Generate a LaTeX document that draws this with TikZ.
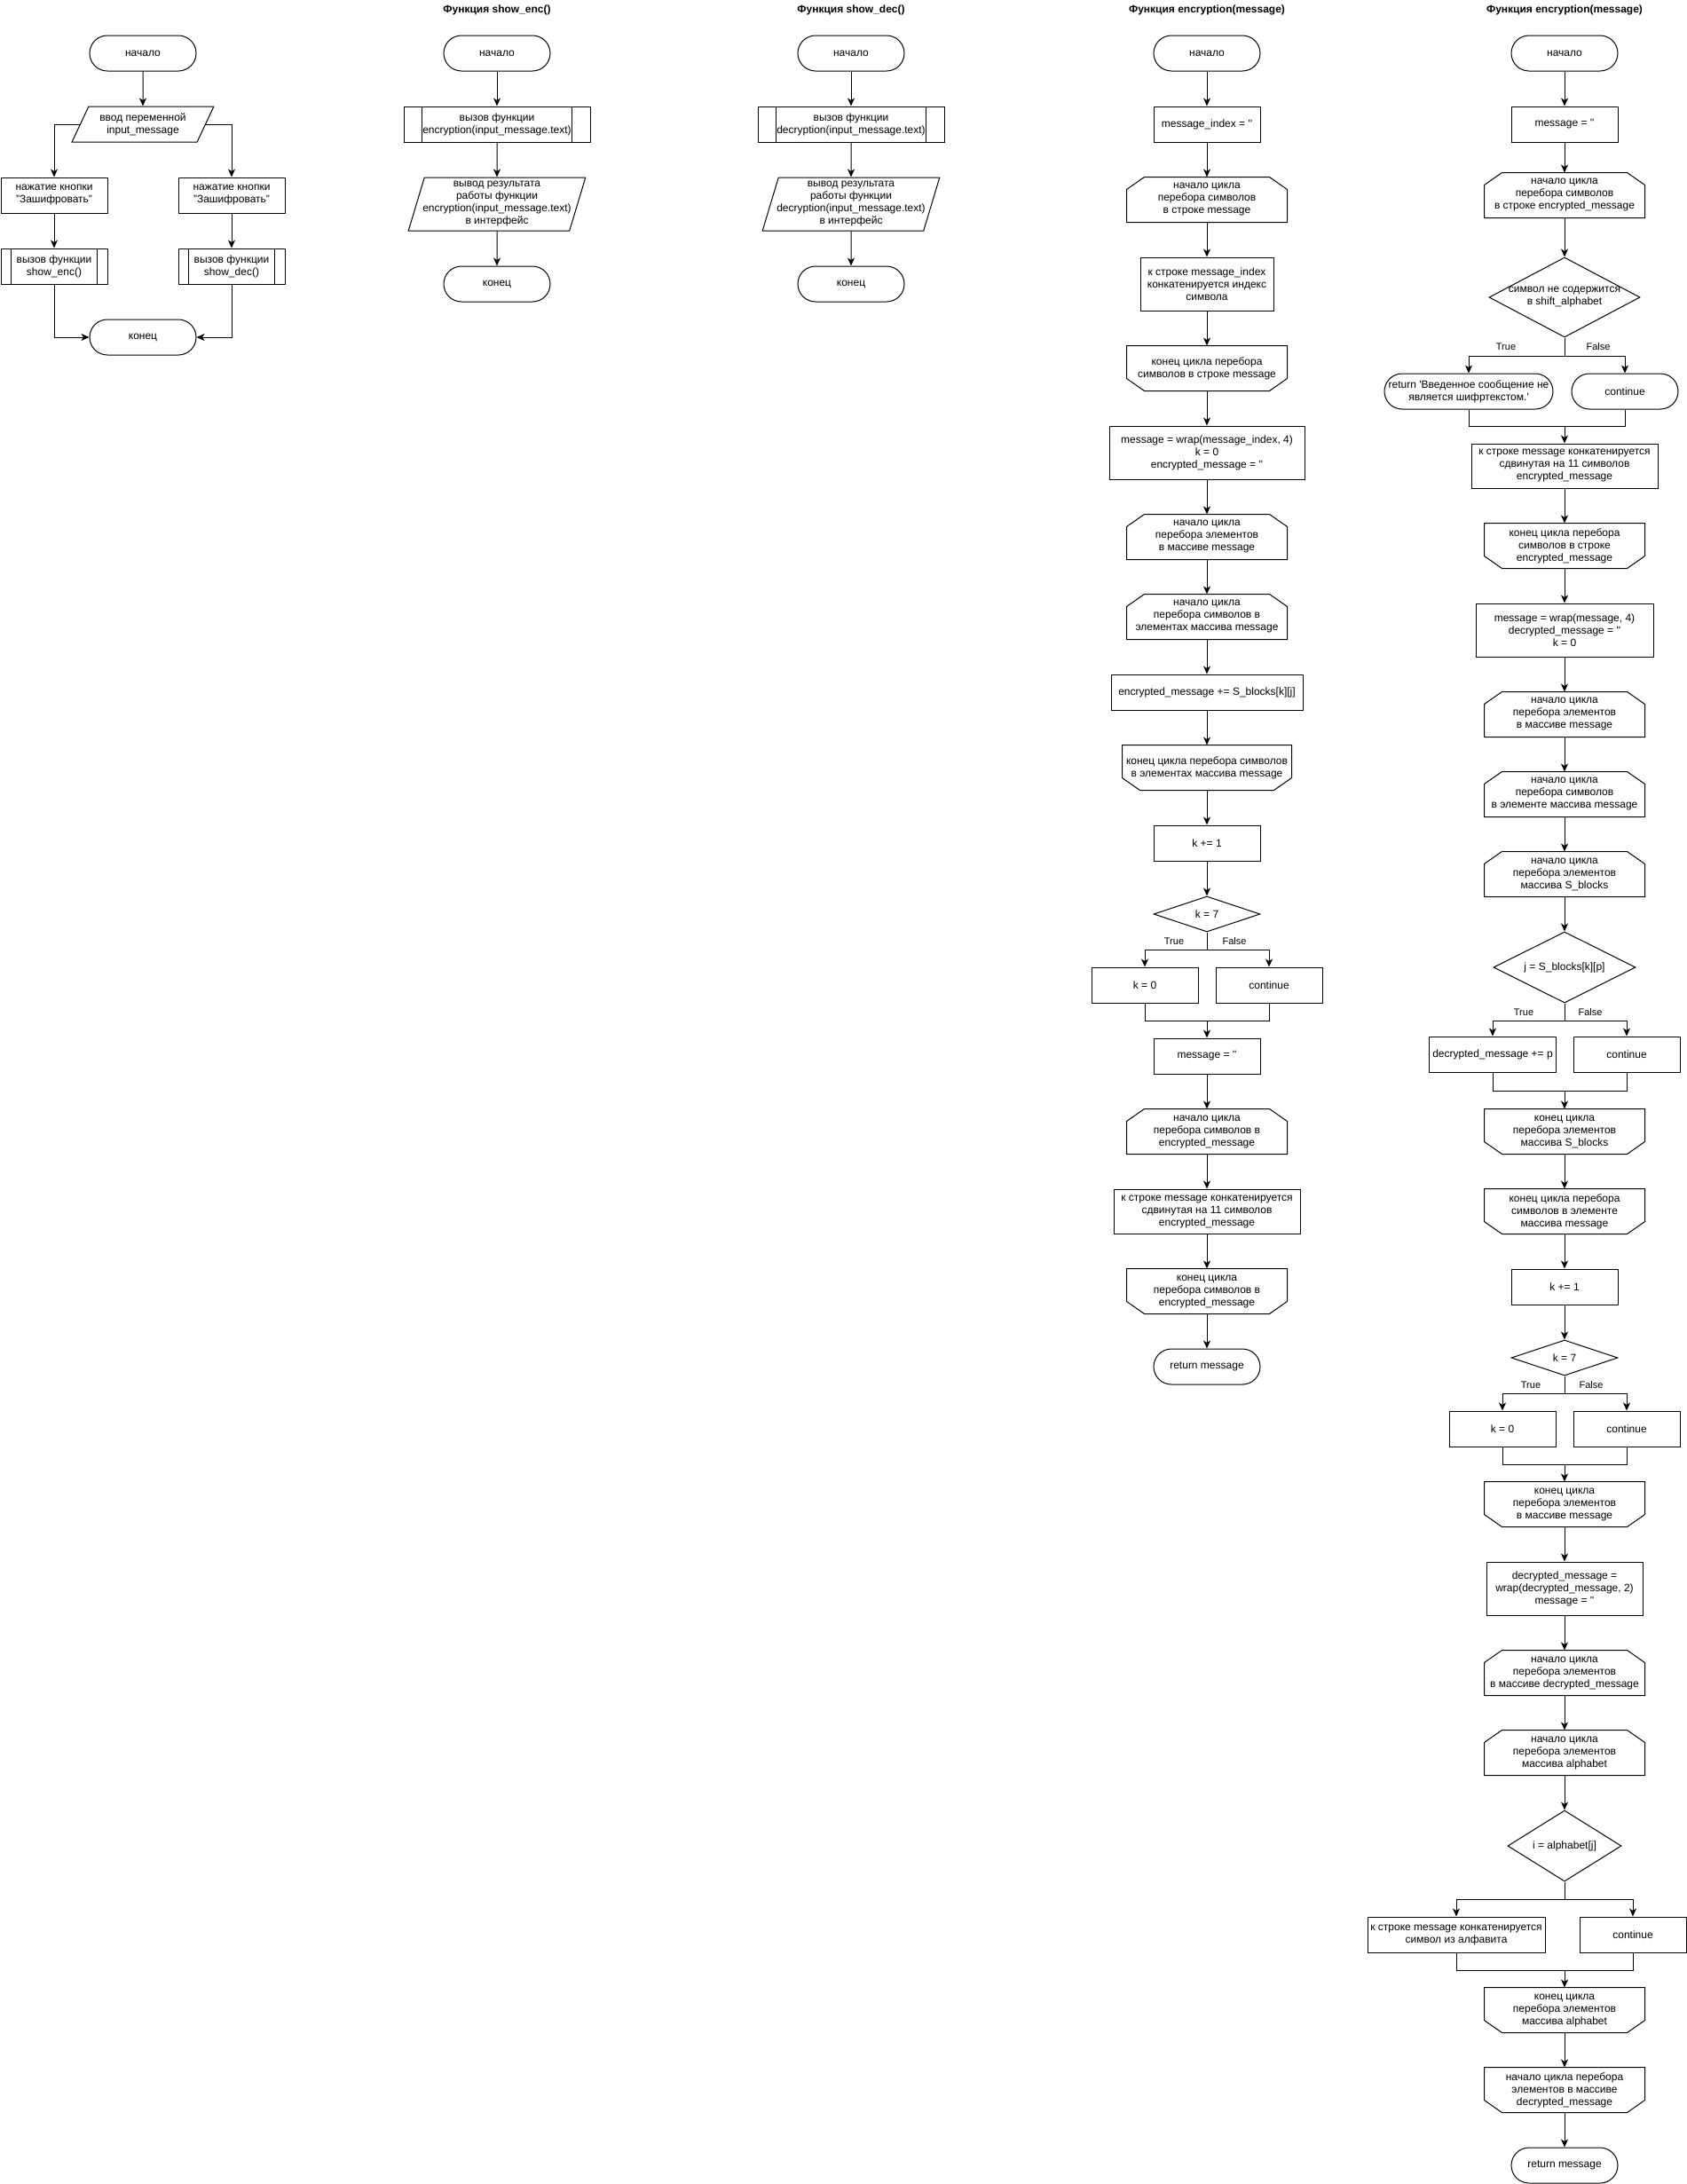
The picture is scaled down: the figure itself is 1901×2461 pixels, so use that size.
\documentclass[tikz,border=0pt]{standalone}
\usepackage{fontspec}
\setmainfont{Liberation Sans}
\usetikzlibrary{shapes.geometric,arrows.meta}
\tikzset{
  arr/.style={-{Stealth[length=9pt,width=8pt,inset=2.5pt]}}
  }
\newcommand{\qt}{\textquotesingle\textquotesingle}
% top corners cut off
\newcommand{\lpbeg}[1]{%
  \draw ([yshift=-14pt]#1.north west) -- ([xshift=20pt]#1.north west)
    -- ([xshift=-20pt]#1.north east) -- ([yshift=-14pt]#1.north east)
    -- (#1.south east) -- (#1.south west) -- cycle;}
% bottom corners cut off
\newcommand{\lpend}[1]{%
  \draw ([yshift=14pt]#1.south west) -- ([xshift=20pt]#1.south west)
    -- ([xshift=-20pt]#1.south east) -- ([yshift=14pt]#1.south east)
    -- (#1.north east) -- (#1.north west) -- cycle;}
\newcommand{\subproc}[2]{%
  \draw ([xshift=#2]#1.north west) -- ([xshift=#2]#1.south west)
    ([xshift=-#2]#1.north east) -- ([xshift=-#2]#1.south east);}

\begin{document}
\begin{tikzpicture}[
    x=1pt, y=-1pt, line width=1pt,
    nodes={font=\fontsize{12}{14}\selectfont, align=center, inner sep=1pt},
    term/.style={%
        draw, rounded corners=20pt,
        minimum width=120pt, minimum height=40pt},
    proc/.style={%
        draw, minimum width=120pt, minimum height=40pt},
    io/.style={%
        draw, trapezium, trapezium stretches=true, inner xsep=-4pt},
    loopbox/.style={%
        minimum width=180pt, minimum height=50pt},
    cond/.style={%
        draw, diamond, inner sep=0pt},
    lbl/.style={font=\fontsize{11}{13}\selectfont},
    title/.style={font=\bfseries\fontsize{12}{14}\selectfont},
]
    \path[use as bounding box, fill=white] (0,0) rectangle (1901,2461);

     %Main
    \node[term] (a1) at (161,60) {начало};
    \node[io, minimum width=160pt, minimum height=40pt,
        trapezium left angle=63.4, trapezium right angle=116.6]
        (a2) at (161,140) {ввод переменной\\input\_message};
    \node[proc] (a3) at (61,220) {нажатие кнопки\\"Зашифровать"};
    \node[proc] (a4) at (261,220) {нажатие кнопки\\"Зашифровать"};
    \node[proc] (a5) at (61,300) {вызов функции\\show\_enc()};
    \node[proc] (a6) at (261,300) {вызов функции\\show\_dec()};
    \node[term] (a7) at (161,380) {конец};
    \subproc{a5}{12pt}
    \subproc{a6}{12pt}
    \draw[arr] (a1.south) -- (a2.north);
    \draw[arr] (a2.west) -| (a3.north);
    \draw[arr] (a2.east) -| (a4.north);
    \draw[arr] (a3.south) -- (a5.north);
    \draw[arr] (a4.south) -- (a6.north);
    \draw[arr] (a5.south) |- (a7.west);
    \draw[arr] (a6.south) |- (a7.east);

     %show_enc
    \node[title] (b0) at (560,11) {Функция show\_enc()};
    \node[term] (b1) at (560,60) {начало};
    \node[proc, minimum width=210pt] (b2) at (560,140)
        {вызов функции\\encryption(input\_message.text)};
    \node[io, minimum width=200pt, minimum height=60pt,
        trapezium left angle=71.6, trapezium right angle=108.4]
        (b3) at (560,230) {вывод результата\\работы функции\\encryption(input\_message.text)\\в интерфейс};
    \node[term] (b4) at (560,320) {конец};
    \subproc{b2}{21pt}
    \draw[arr] (b1.south) -- (b2.north);
    \draw[arr] (b2.south) -- (b3.north);
    \draw[arr] (b3.south) -- (b4.north);

     %show_dec
    \node[title] (e0) at (959,11) {Функция show\_dec()};
    \node[term] (e1) at (959,60) {начало};
    \node[proc, minimum width=210pt] (e2) at (959,140)
        {вызов функции\\decryption(input\_message.text)};
    \node[io, minimum width=200pt, minimum height=60pt,
        trapezium left angle=71.6, trapezium right angle=108.4]
        (e3) at (959,230) {вывод результата\\работы функции\\decryption(input\_message.text)\\в интерфейс};
    \node[term] (e4) at (959,320) {конец};
    \subproc{e2}{21pt}
    \draw[arr] (e1.south) -- (e2.north);
    \draw[arr] (e2.south) -- (e3.north);
    \draw[arr] (e3.south) -- (e4.north);

     %encryption
    \node[title] (c0) at (1360,11) {Функция encryption(message)};
    \node[term] (c1) at (1360,60) {начало};
    \node[proc] (c2) at (1360,140) {message\_index = \qt};
    \node[loopbox] (c3) at (1360,225) {начало цикла\\перебора символов\\в строке message};
    \node[proc, minimum width=150pt, minimum height=60pt] (c4) at (1360,320)
        {к строке message\_index\\конкатенируется индекс\\символа};
    \node[loopbox] (c5) at (1360,415) {конец цикла перебора\\символов в строке message};
    \node[proc, minimum width=220pt, minimum height=60pt] (c6) at (1360,510)
        {message = wrap(message\_index, 4)\\k = 0\\encrypted\_message = \qt};
    \node[loopbox] (c7) at (1360,605) {начало цикла\\перебора элементов\\в массиве message};
    \node[loopbox] (c8) at (1360,695) {начало цикла\\перебора символов в\\элементах массива message};
    \node[proc, minimum width=216pt] (c9) at (1360,780) {encrypted\_message += S\_blocks[k][j]};
    \node[loopbox, minimum width=190pt] (c10) at (1360,865)
        {конец цикла перебора символов\\в элементах массива message};
    \node[proc] (c11) at (1360,950) {k += 1};
    \node[cond, minimum width=120pt, minimum height=40pt, aspect=3] (c12) at (1360,1030) {k = 7};
    \node[lbl] (c12t) at (1323,1061) {True};
    \node[lbl] (c12f) at (1391,1061) {False};
    \node[proc] (c13) at (1290,1110) {k = 0};
    \node[proc] (c14) at (1430,1110) {continue};
    \node[proc] (c15) at (1360,1190) {message = \qt};
    \node[loopbox] (c16) at (1360,1275) {начало цикла\\перебора символов в\\encrypted\_message};
    \node[proc, minimum width=210pt, minimum height=50pt] (c17) at (1360,1365)
        {к строке message конкатенируется\\сдвинутая на 11 символов\\encrypted\_message};
    \node[loopbox] (c18) at (1360,1455) {конец цикла\\перебора символов в\\encrypted\_message};
    \node[term] (c19) at (1360,1540) {return message};
    \lpbeg{c3} \lpend{c5} \lpbeg{c7} \lpbeg{c8} \lpend{c10} \lpbeg{c16} \lpend{c18}
    \coordinate (c12s) at (1360,1070);
    \coordinate (c15m) at (1360,1150);
    \draw[arr] (c1.south) -- (c2.north);
    \draw[arr] (c2.south) -- (c3.north);
    \draw[arr] (c3.south) -- (c4.north);
    \draw[arr] (c4.south) -- (c5.north);
    \draw[arr] (c5.south) -- (c6.north);
    \draw[arr] (c6.south) -- (c7.north);
    \draw[arr] (c7.south) -- (c8.north);
    \draw[arr] (c8.south) -- (c9.north);
    \draw[arr] (c9.south) -- (c10.north);
    \draw[arr] (c10.south) -- (c11.north);
    \draw[arr] (c11.south) -- (c12.north);
    \draw (c12.south) -- (c12s);
    \draw[arr] (c12s) -| (c13.north);
    \draw[arr] (c12s) -| (c14.north);
    \draw (c13.south) |- (c15m);
    \draw (c14.south) |- (c15m);
    \draw[arr] (c15m) -- (c15.north);
    \draw[arr] (c15.south) -- (c16.north);
    \draw[arr] (c16.south) -- (c17.north);
    \draw[arr] (c17.south) -- (c18.north);
    \draw[arr] (c18.south) -- (c19.north);

     %decryption (titled as in the source)
    \node[title] (d0) at (1763,11) {Функция encryption(message)};
    \node[term] (d1) at (1763,60) {начало};
    \node[proc] (d2) at (1763,140) {message = \qt};
    \node[loopbox] (d3) at (1763,220) {начало цикла\\перебора символов\\в строке encrypted\_message};
    \node[cond, minimum width=170pt, minimum height=90pt, aspect=1.9, inner sep=-4pt]
        (d4) at (1763,335) {символ не содержится\\в shift\_alphabet};
    \node[lbl] (d4t) at (1697,391) {True};
    \node[lbl] (d4f) at (1801,391) {False};
    \node[term, minimum width=190pt] (d5) at (1655,441)
        {return \textquotesingle Введенное сообщение не\\является шифртекстом.\textquotesingle};
    \node[term] (d6) at (1831,441) {continue};
    \node[proc, minimum width=210pt, minimum height=50pt] (d7) at (1763,525)
        {к строке message конкатенируется\\сдвинутая на 11 символов\\encrypted\_message};
    \node[loopbox] (d8) at (1763,615) {конец цикла перебора\\символов в строке\\encrypted\_message};
    \node[proc, minimum width=200pt, minimum height=60pt] (d9) at (1763,710)
        {message = wrap(message, 4)\\decrypted\_message = \qt\\k = 0};
    \node[loopbox] (d10) at (1763,805) {начало цикла\\перебора элементов\\в массиве message};
    \node[loopbox] (d11) at (1763,895) {начало цикла\\перебора символов\\в элементе массива message};
    \node[loopbox] (d12) at (1763,985) {начало цикла\\перебора элементов\\массива S\_blocks};
    \node[cond, minimum width=160pt, minimum height=80pt, aspect=2] (d13) at (1763,1090) {j = S\_blocks[k][p]};
    \node[lbl] (d13t) at (1717,1141) {True};
    \node[lbl] (d13f) at (1792,1141) {False};
    \node[proc, minimum width=143pt] (d14) at (1682,1188) {decrypted\_message += p};
    \node[proc] (d15) at (1833,1188) {continue};
    \node[loopbox] (d16) at (1763,1275) {конец цикла\\перебора элементов\\массива S\_blocks};
    \node[loopbox] (d17) at (1763,1365) {конец цикла перебора\\символов в элементе\\массива message};
    \node[proc] (d18) at (1763,1450) {k += 1};
    \node[cond, minimum width=120pt, minimum height=40pt, aspect=3] (d19) at (1763,1530) {k = 7};
    \node[lbl] (d19t) at (1725,1561) {True};
    \node[lbl] (d19f) at (1793,1561) {False};
    \node[proc] (d20) at (1693,1610) {k = 0};
    \node[proc] (d21) at (1833,1610) {continue};
    \node[loopbox] (d22) at (1763,1695) {конец цикла\\перебора элементов\\в массиве message};
    \node[proc, minimum width=176pt, minimum height=60pt] (d23) at (1763,1790)
        {decrypted\_message =\\wrap(decrypted\_message, 2)\\message = \qt};
    \node[loopbox] (d24) at (1763,1885) {начало цикла\\перебора элементов\\в массиве decrypted\_message};
    \node[loopbox] (d25) at (1763,1975) {начало цикла\\перебора элементов\\массива alphabet};
    \node[cond, minimum width=128pt, minimum height=80pt, aspect=1.6] (d26) at (1763,2080) {i = alphabet[j]};
    \node[proc, minimum width=200pt] (d27) at (1641,2180)
        {к строке message конкатенируется\\символ из алфавита};
    \node[proc] (d28) at (1840,2180) {continue};
    \node[loopbox] (d29) at (1763,2265) {конец цикла\\перебора элементов\\массива alphabet};
    \node[loopbox] (d30) at (1763,2355) {начало цикла перебора\\элементов в массиве\\decrypted\_message};
    \node[term] (d31) at (1763,2440) {return message};
    \lpbeg{d3} \lpend{d8} \lpbeg{d10} \lpbeg{d11} \lpbeg{d12} \lpend{d16} \lpend{d17}
    \lpend{d22} \lpbeg{d24} \lpbeg{d25} \lpend{d29} \lpend{d30}
    \coordinate (d4s) at (1763,401);
    \coordinate (d7m) at (1763,480);
    \coordinate (d13s) at (1763,1150);
    \coordinate (d16m) at (1763,1229);
    \coordinate (d19s) at (1763,1570);
    \coordinate (d22m) at (1763,1650);
    \coordinate (d26s) at (1763,2140);
    \coordinate (d29m) at (1763,2220);
    \draw[arr] (d1.south) -- (d2.north);
    \draw[arr] (d2.south) -- (d3.north);
    \draw[arr] (d3.south) -- (d4.north);
    \draw (d4.south) -- (d4s);
    \draw[arr] (d4s) -| (d5.north);
    \draw[arr] (d4s) -| (d6.north);
    \draw (d5.south) |- (d7m);
    \draw (d6.south) |- (d7m);
    \draw[arr] (d7m) -- (d7.north);
    \draw[arr] (d7.south) -- (d8.north);
    \draw[arr] (d8.south) -- (d9.north);
    \draw[arr] (d9.south) -- (d10.north);
    \draw[arr] (d10.south) -- (d11.north);
    \draw[arr] (d11.south) -- (d12.north);
    \draw[arr] (d12.south) -- (d13.north);
    \draw (d13.south) -- (d13s);
    \draw[arr] (d13s) -| (d14.north);
    \draw[arr] (d13s) -| (d15.north);
    \draw (d14.south) |- (d16m);
    \draw (d15.south) |- (d16m);
    \draw[arr] (d16m) -- (d16.north);
    \draw[arr] (d16.south) -- (d17.north);
    \draw[arr] (d17.south) -- (d18.north);
    \draw[arr] (d18.south) -- (d19.north);
    \draw (d19.south) -- (d19s);
    \draw[arr] (d19s) -| (d20.north);
    \draw[arr] (d19s) -| (d21.north);
    \draw (d20.south) |- (d22m);
    \draw (d21.south) |- (d22m);
    \draw[arr] (d22m) -- (d22.north);
    \draw[arr] (d22.south) -- (d23.north);
    \draw[arr] (d23.south) -- (d24.north);
    \draw[arr] (d24.south) -- (d25.north);
    \draw[arr] (d25.south) -- (d26.north);
    \draw (d26.south) -- (d26s);
    \draw[arr] (d26s) -| (d27.north);
    \draw[arr] (d26s) -| (d28.north);
    \draw (d27.south) |- (d29m);
    \draw (d28.south) |- (d29m);
    \draw[arr] (d29m) -- (d29.north);
    \draw[arr] (d29.south) -- (d30.north);
    \draw[arr] (d30.south) -- (d31.north);
\end{tikzpicture}
\end{document}
